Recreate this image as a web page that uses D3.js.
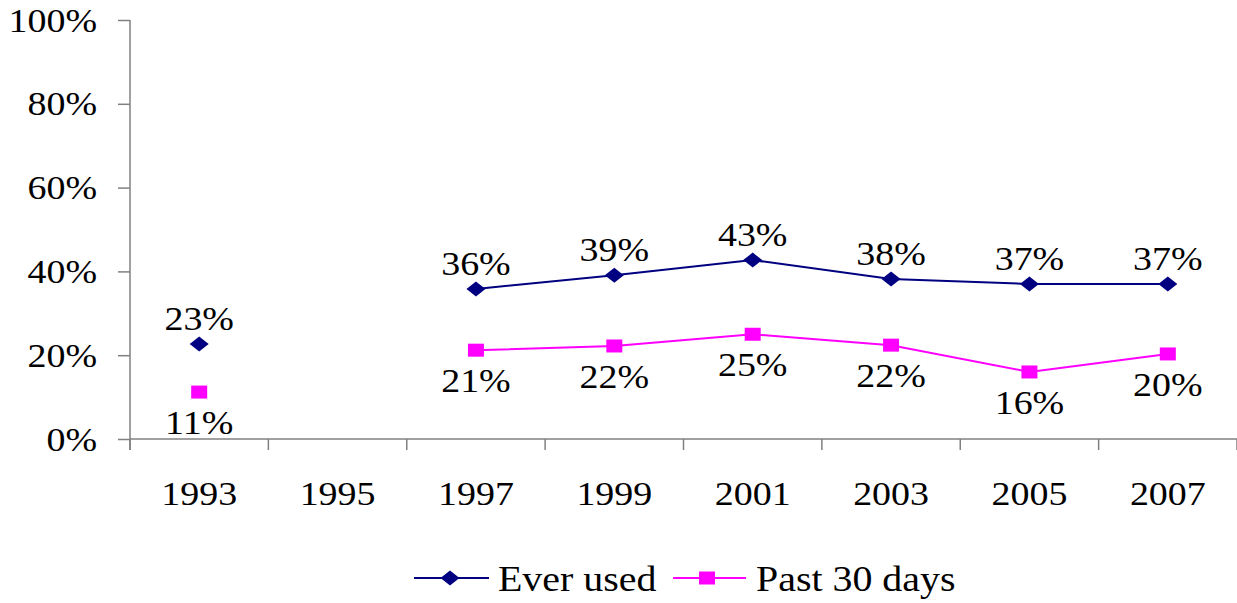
<!DOCTYPE html>
<html><head><meta charset="utf-8">
<script src="https://cdn.jsdelivr.net/npm/d3@7/dist/d3.min.js"></script>
<style>html,body{margin:0;padding:0;background:#fff;overflow:hidden}
svg text{font-family:"Liberation Serif","Times New Roman",Times,serif;}</style>
</head><body>
<svg id="c" width="1237" height="603"></svg>
<script>
const years = ["1993","1995","1997","1999","2001","2003","2005","2007"];
const everUsed = [22.7, null, 35.8, 39.1, 42.7, 38.2, 37.0, 37.0];
const past30 = [11.2, null, 21.2, 22.2, 25.0, 22.4, 16.0, 20.3];
const everLabels = ["23%", "", "36%", "39%", "43%", "38%", "37%", "37%"];
const pastLabels = ["11%", "", "21%", "22%", "25%", "22%", "16%", "20%"];
const yTicks = [0, 20, 40, 60, 80, 100];
const seriesNames = ["Ever used", "Past 30 days"];

const svg = d3.select("#c");
const FS = 33, SX = 1.15;
const NAVY = "#000080", MAG = "#FF00FF", AX = "#808080";

const x = d3.scaleBand().domain(years).range([130, 1237]).padding(0);
const y = d3.scaleLinear().domain([0, 100]).range([439, 20]);

function txt(g, tx, ty, s, anchor, fs, sx) {
  return g.append("text").attr("transform", `translate(${tx},${ty}) scale(${sx || SX},1)`)
    .attr("text-anchor", anchor || "middle")
    .attr("font-size", fs || FS).attr("fill", "#000").text(s);
}

// Y axis
const yAx = svg.append("g").attr("transform", "translate(130,0)")
  .call(d3.axisLeft(y).tickValues(yTicks).tickSize(12).tickSizeOuter(0).tickFormat(""));
yAx.select(".domain").remove();
yAx.selectAll("line").attr("stroke", AX).attr("stroke-width", 1.5);
svg.append("line").attr("x1", 130).attr("x2", 130).attr("y1", y(100)).attr("y2", 450)
  .attr("stroke", AX).attr("stroke-width", 1.5);
yTicks.forEach(t => txt(svg, 97, y(t) + 11.5, t + "%", "end"));

// X axis
svg.append("line").attr("x1", 130).attr("x2", 1237).attr("y1", y(0)).attr("y2", y(0))
  .attr("stroke", AX).attr("stroke-width", 1.5);
const bounds = years.map(d => x(d)).concat([x.range()[1]]);
svg.selectAll(".xt").data(bounds).enter().append("line")
  .attr("x1", d => d).attr("x2", d => d).attr("y1", y(0)).attr("y2", 450)
  .attr("stroke", AX).attr("stroke-width", 1.5);
years.forEach(d => txt(svg, x(d) + x.bandwidth() / 2, 505, d));

const cx = d => x(d) + x.bandwidth() / 2;
const diamond = "M0,-7.5L9.5,0L0,7.5L-9.5,0Z";
const square = "M-8,-6.5H8V6.5H-8Z";

function drawSeries(vals, labels, color, shape, above) {
  const data = years.map((yr, i) => ({yr, v: vals[i], l: labels[i]}));
  const line = d3.line().defined(d => d.v != null).x(d => cx(d.yr)).y(d => y(d.v));
  svg.append("path").datum(data).attr("d", line).attr("fill", "none")
    .attr("stroke", color).attr("stroke-width", 2);
  const pts = data.filter(d => d.v != null);
  svg.selectAll(null).data(pts).enter().append("path")
    .attr("d", shape).attr("fill", color)
    .attr("transform", d => `translate(${cx(d.yr)},${y(d.v)})`);
  pts.forEach(d => txt(svg, cx(d.yr), above ? y(d.v) - 14 : y(d.v) + 42, d.l));
}
drawSeries(everUsed, everLabels, NAVY, diamond, true);
drawSeries(past30, pastLabels, MAG, square, false);

// Legend
const lg = svg.append("g");
const LFS = 35, LSX = 1.14;
lg.append("line").attr("x1", 414).attr("x2", 489).attr("y1", 578).attr("y2", 578)
  .attr("stroke", NAVY).attr("stroke-width", 2);
lg.append("path").attr("d", diamond).attr("fill", NAVY).attr("transform", "translate(450,578)");
txt(lg, 498, 591, seriesNames[0], "start", LFS, LSX);
lg.append("line").attr("x1", 673).attr("x2", 746).attr("y1", 578).attr("y2", 578)
  .attr("stroke", MAG).attr("stroke-width", 2);
lg.append("path").attr("d", square).attr("fill", MAG).attr("transform", "translate(707,578)");
txt(lg, 756, 591, seriesNames[1], "start", LFS, LSX);
</script>
</body></html>
